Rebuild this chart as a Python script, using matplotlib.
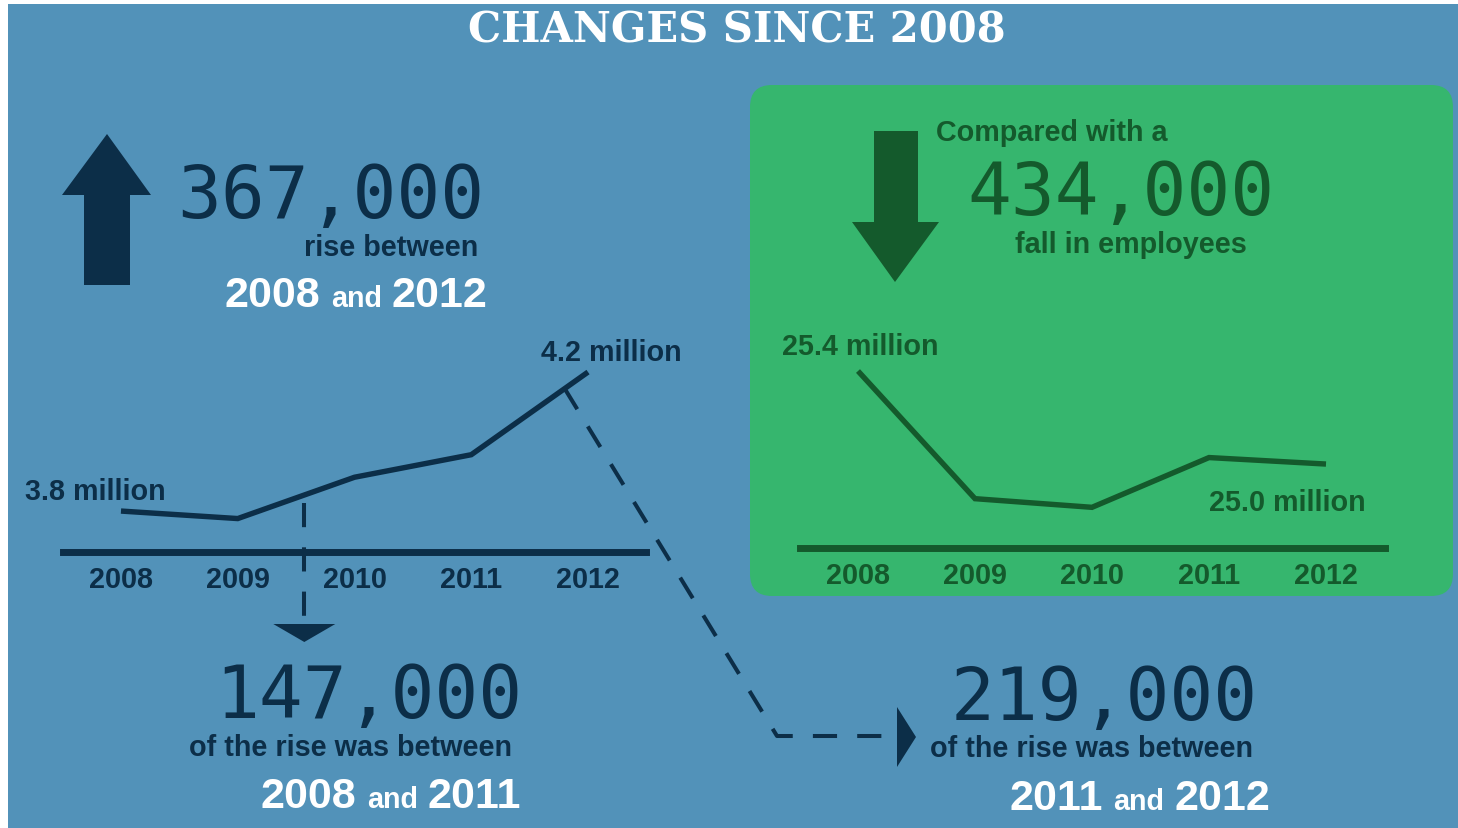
import matplotlib
matplotlib.use('Agg')
import matplotlib.pyplot as plt
from matplotlib.patches import Rectangle, FancyBboxPatch, Polygon
import numpy as np

# ---------------- data ----------------
years = [2008, 2009, 2010, 2011, 2012]
year_labels = ['2008', '2009', '2010', '2011', '2012']
self_employed = [3.80, 3.78, 3.89, 3.95, 4.17]   # millions
employees = [25.40, 24.81, 24.77, 25.00, 24.97]  # millions
self_first_label = '3.8 million'
self_last_label = '4.2 million'
emp_first_label = '25.4 million'
emp_last_label = '25.0 million'
title = 'CHANGES SINCE 2008'
rise_total = '367,000'
fall_total = '434,000'
rise_part1 = '147,000'
rise_part2 = '219,000'

# ---------------- style ----------------
BLUE = '#5292b9'
NAVY = '#0c2e48'
GREEN = '#36b66e'
DGREEN = '#145a2c'
WHITE = '#ffffff'
W, H = 1458, 829
SANS = ['Liberation Sans', 'DejaVu Sans']
MONO = ['DejaVu Sans Mono']
SERIF = ['DejaVu Serif']
SMALL = 20.7
BIG = 52.5
MID = 31

fig = plt.figure(figsize=(W / 100, H / 100), dpi=100)
fig.patch.set_facecolor('white')
bg = fig.add_axes([0, 0, 1, 1])
bg.set_xlim(0, W)
bg.set_ylim(H, 0)
bg.axis('off')
bg.add_patch(Rectangle((8, 5), W - 8, H - 5, color=BLUE, lw=0, zorder=0))
bg.add_patch(FancyBboxPatch((750, 86), 703, 511, boxstyle='round,pad=0,rounding_size=22',
                            fc=GREEN, ec='none', zorder=1))


def px_axes(x0, y0, x1, y1):
    ax = fig.add_axes([x0 / W, 1 - y1 / H, (x1 - x0) / W, (y1 - y0) / H])
    ax.patch.set_alpha(0)
    return ax


def txt(x, y, s, size, color, family=SANS, weight='bold', ha='left', va='baseline'):
    return bg.text(x, y, s, fontsize=size, color=color, family=family, fontweight=weight,
                   ha=ha, va=va, zorder=5)


renderer = fig.canvas.get_renderer()


def chain(x, y, parts, color, gap=10):
    for s, size in parts:
        t = txt(x, y, s, size, color)
        bb = t.get_window_extent(renderer)
        x = bg.transData.inverted().transform((bb.x1, bb.y0))[0] + gap


def line_chart(ax, values, color, ylim):
    ax.plot(years, values, color=color, lw=3.9, solid_capstyle='butt', solid_joinstyle='miter',
            clip_on=False, zorder=3)
    ax.set_xlim(2007.5, 2012.5)
    ax.set_ylim(*ylim)
    for sp in ['top', 'left', 'right']:
        ax.spines[sp].set_visible(False)
    ax.spines['bottom'].set_color(color)
    ax.spines['bottom'].set_linewidth(5)
    ax.set_yticks([])
    ax.set_xticks(years)
    ax.set_xticklabels(year_labels, family=SANS, fontweight='bold', fontsize=SMALL, color=color)
    ax.tick_params(axis='x', length=0, pad=9.5)


# ---------------- title ----------------
txt(737, 42, title, 30, WHITE, family=SERIF, weight='bold', ha='center')

# ---------------- left chart ----------------
axL = px_axes(62.6, 340, 646.4, 553)
line_chart(axL, self_employed, NAVY, (3.691, 4.258))

# ---------------- right chart ----------------
axR = px_axes(799.5, 340, 1384.5, 549)
line_chart(axR, employees, DGREEN, (24.582, 25.548))

# ---------------- left headline ----------------
bg.add_patch(Polygon([(84, 286), (130, 286), (130, 196), (151, 196), (107, 135), (62, 196), (84, 196)],
                     closed=True, fc=NAVY, ec='none', zorder=4))
txt(177, 218, rise_total, BIG, NAVY, family=MONO, weight='normal')
txt(478, 256, 'rise between', SMALL, NAVY, ha='right')
chain(225, 307, [('2008', MID), ('and', SMALL), ('2012', MID)], WHITE)

# ---------------- right headline ----------------
bg.add_patch(Polygon([(874, 132), (918, 132), (918, 223), (939, 223), (895, 283), (852, 223), (874, 223)],
                     closed=True, fc=DGREEN, ec='none', zorder=4))
txt(936, 141, 'Compared with a', SMALL, DGREEN)
txt(967, 215, fall_total, BIG, DGREEN, family=MONO, weight='normal')
txt(1015, 253, 'fall in employees', SMALL, DGREEN)

# ---------------- value labels ----------------
txt(25, 500, self_first_label, SMALL, NAVY)
txt(541, 361, self_last_label, SMALL, NAVY)
txt(782, 355, emp_first_label, SMALL, DGREEN)
txt(1209, 511, emp_last_label, SMALL, DGREEN)

# ---------------- dashed connectors ----------------
inv = bg.transData.inverted()
x_mid = 2009.57
y_mid = np.interp(x_mid, years, self_employed)
vx, vy = inv.transform(axL.transData.transform((x_mid, y_mid)))
bg.plot([vx, vx], [vy + 8, 625], color=NAVY, lw=2.9, ls=(0, (6, 5)), zorder=4)
bg.add_patch(Polygon([(vx - 31, 625), (vx + 31, 625), (vx, 643)], closed=True, fc=NAVY, ec='none', zorder=4))

x_end = 2011.8
y_end = np.interp(x_end, years, self_employed)
dx, dy = inv.transform(axL.transData.transform((x_end, y_end)))
bg.plot([dx, 777, 886], [dy, 737, 737], color=NAVY, lw=2.9, ls=(0, (6, 5)), zorder=4)
bg.add_patch(Polygon([(897, 708), (897, 768), (916, 738)], closed=True, fc=NAVY, ec='none', zorder=4))

# ---------------- bottom texts ----------------
txt(215, 718, rise_part1, BIG, NAVY, family=MONO, weight='normal')
txt(512, 756, 'of the rise was between', SMALL, NAVY, ha='right')
chain(261, 808, [('2008', MID), ('and', SMALL), ('2011', MID)], WHITE)

txt(951, 720, rise_part2, BIG, NAVY, family=MONO, weight='normal')
txt(930, 757, 'of the rise was between', SMALL, NAVY)
chain(1010, 810, [('2011', MID), ('and', SMALL), ('2012', MID)], WHITE)

fig.savefig('out.png', dpi=100, facecolor=fig.get_facecolor())
